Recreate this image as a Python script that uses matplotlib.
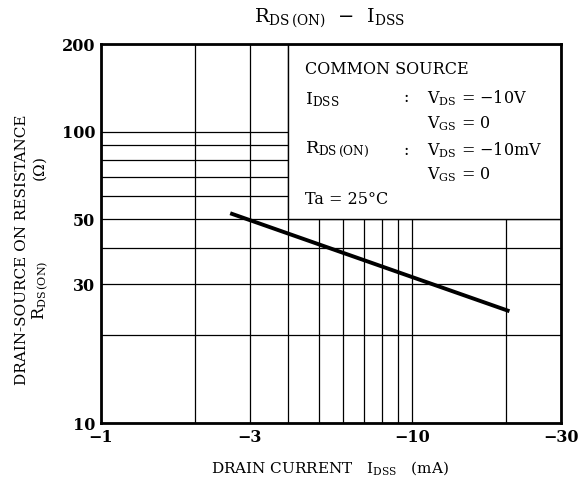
import matplotlib.pyplot as plt
from matplotlib.patches import Rectangle
from matplotlib.ticker import FixedLocator, NullFormatter

plt.rcParams['font.family'] = 'DejaVu Serif'
plt.rcParams['mathtext.fontset'] = 'dejavuserif'

# curve data: drain current (mA, negative) vs on-resistance (ohm)
idss = [-2.6, -20.5]
rds_on = [52.5, 24.2]

x_major = [-1, -3, -10, -30]
x_minor = [-2, -4, -5, -6, -7, -8, -9, -20]
y_major = [10, 30, 50, 100, 200]
y_minor = [20, 40, 60, 70, 80, 90]

MINUS = '\u2212'

fig = plt.figure(figsize=(5.78, 4.86), dpi=100)
ax = fig.add_axes([0.1747, 0.1296, 0.7958, 0.7798])
ax.set_xscale('log')
ax.set_yscale('log')
ax.set_xlim(1, 30)
ax.set_ylim(10, 200)

ax.xaxis.set_major_locator(FixedLocator([-v for v in x_major]))
ax.xaxis.set_minor_locator(FixedLocator([-v for v in x_minor]))
ax.set_xticklabels([MINUS + str(-v) for v in x_major], fontweight='bold', fontsize=11.5)
ax.xaxis.set_minor_formatter(NullFormatter())
ax.yaxis.set_major_locator(FixedLocator(y_major))
ax.yaxis.set_minor_locator(FixedLocator(y_minor))
ax.set_yticklabels([str(v) for v in y_major], fontweight='bold', fontsize=11.5)
ax.yaxis.set_minor_formatter(NullFormatter())
ax.tick_params(which='both', length=0, pad=4)

ax.grid(True, which='both', color='black', linewidth=0.9)
for s in ax.spines.values():
    s.set_linewidth(2.0)

# condition box hides the grid in the upper right
ax.add_patch(Rectangle((4, 50), 26, 150, facecolor='white', edgecolor='black',
                       linewidth=1.0, zorder=2.5))

ax.plot([-v for v in idss], rds_on, color='black', linewidth=2.8,
        solid_capstyle='butt', zorder=3)


def px(x, y):
    return x / 578, 1 - y / 486


fs = 11.5
fig.text(*px(305, 70), 'COMMON SOURCE', fontsize=fs, va='center')
fig.text(*px(305, 100), r'$\mathrm{I_{DSS}}$', fontsize=fs + 1, va='center')
fig.text(*px(403, 98), ':', fontsize=fs, va='center')
fig.text(*px(427, 98), r'$\mathrm{V_{DS}}$ = ' + MINUS + '10V', fontsize=fs, va='center')
fig.text(*px(427, 124), r'$\mathrm{V_{GS}}$ = 0', fontsize=fs, va='center')
fig.text(*px(305, 150), r'$\mathrm{R_{DS\,(ON)}}$', fontsize=fs + 1, va='center')
fig.text(*px(403, 150), ':', fontsize=fs, va='center')
fig.text(*px(427, 150), r'$\mathrm{V_{DS}}$ = ' + MINUS + '10mV', fontsize=fs, va='center')
fig.text(*px(427, 175), r'$\mathrm{V_{GS}}$ = 0', fontsize=fs, va='center')
fig.text(*px(305, 199), 'Ta = 25\u00b0C', fontsize=fs, va='center')

fig.text(*px(330, 18), r'$\mathrm{R_{DS\,(ON)}}$  ' + MINUS + r'  $\mathrm{I_{DSS}}$',
         fontsize=14, ha='center', va='center')
fig.text(*px(330, 468), r'DRAIN CURRENT   $\mathrm{I_{DSS}}$   (mA)',
         fontsize=11, ha='center', va='center')
fig.text(*px(22, 250), 'DRAIN-SOURCE ON RESISTANCE', fontsize=11,
         rotation=90, ha='center', va='center')
fig.text(*px(41, 290), r'$\mathrm{R_{DS\,(ON)}}$', fontsize=11.5,
         rotation=90, ha='center', va='center')
fig.text(*px(40, 169), r'($\Omega$)', fontsize=11,
         rotation=90, ha='center', va='center')

fig.savefig('out.png', dpi=100)
